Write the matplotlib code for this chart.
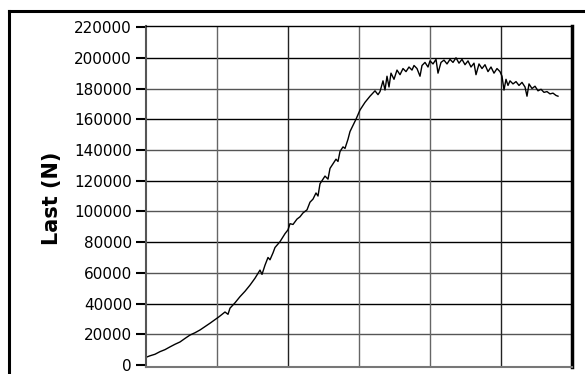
import numpy as np
import matplotlib.pyplot as plt
from matplotlib.lines import Line2D

# Load curve (x in grid units: 71 per division)
x_pos = [0, 4, 9, 14, 19, 24, 29, 34, 39, 44, 49, 54, 59, 64, 69, 73, 79, 82, 84, 89,
         94, 99, 104, 109, 114, 116, 119, 122, 124, 127, 129, 134, 139, 142, 144, 147,
         151, 154, 157, 161, 164, 167, 170, 172, 174, 179, 182, 184, 187, 190, 192, 194,
         197, 199, 202, 204, 207, 210, 214, 219, 224, 229, 232, 234, 237, 239, 241, 243,
         245, 248, 251, 254, 257, 260, 263, 266, 268, 271, 274, 276, 279, 282, 284, 287,
         290, 292, 295, 298, 301, 304, 307, 310, 313, 316, 319, 322, 325, 328, 330, 333,
         336, 339, 342, 345, 348, 351, 354, 356, 358, 360, 362, 364, 367, 370, 373, 376,
         379, 381, 383, 386, 389, 392, 395, 398, 401, 404, 407, 410, 412]
load = [5000, 6000, 7000, 8700, 10000, 11800, 13500, 15000, 17300, 19500, 21000, 22800,
        25000, 27200, 29500, 31400, 34500, 33000, 37000, 40500, 44500, 48000, 52000, 56500,
        61800, 59000, 65000, 70000, 68500, 73000, 76500, 80300, 85500, 88000, 92000, 91500,
        95000, 96500, 99000, 101000, 106000, 108000, 112000, 110000, 118000, 123000, 121000,
        128000, 131000, 134000, 132500, 139000, 142000, 141000, 147000, 152000, 156000,
        160000, 166000, 171000, 175000, 178500, 176000, 178000, 185000, 179000, 188000,
        181000, 190000, 186000, 192000, 189000, 193000, 191000, 194000, 192000, 195000,
        193000, 188000, 195000, 197000, 194000, 198000, 196000, 199000, 190000, 197000,
        198500, 196000, 199000, 197000, 200000, 196500, 199000, 195500, 198000, 194000,
        196500, 189000, 196000, 193000, 195500, 191000, 194000, 190000, 193000, 191000,
        188000, 179000, 186000, 182000, 185000, 183000, 184500, 182000, 184000, 181000,
        175000, 183000, 180000, 181500, 178500, 179500, 177500, 178000, 176500, 177000,
        175500, 175000]

y_ticks = list(range(0, 220001, 20000))
x_grid = [0, 71, 142, 213, 284, 355, 426]

fig = plt.figure(figsize=(5.85, 3.74), dpi=100)
ax = fig.add_axes([146 / 585, 1 - 367 / 374, 426 / 585, 341 / 374])

ax.plot(x_pos, load, color='black', lw=1.0)
ax.set_xlim(0, 426)
ax.set_ylim(-1300, 220700)

ax.set_yticks(y_ticks)
ax.set_yticklabels([str(v) for v in y_ticks], fontsize=11)
ax.set_xticks(x_grid)
ax.tick_params(axis='x', length=0, labelbottom=False)
ax.tick_params(axis='y', length=7, width=1.5, pad=3)

# grid lines alternate between black and grey like the original
for i, v in enumerate(y_ticks[1:-1]):
    ax.axhline(v, color='black' if i % 2 else '#555555', lw=1, zorder=0)
for i, v in enumerate(x_grid[1:-1]):
    ax.axvline(v, color='#222222' if i % 3 == 1 else '#666666', lw=1, zorder=0)

ax.spines['left'].set_color('#555555')
ax.spines['left'].set_linewidth(1.5)
ax.spines['bottom'].set_color('#777777')
ax.spines['bottom'].set_linewidth(1.5)
ax.spines['top'].set_linewidth(1)
ax.spines['right'].set_linewidth(2.5)

fig.text(52 / 585, 1 - 198 / 374, 'Last (N)', rotation=90, fontsize=15,
         fontweight='bold', ha='center', va='center')

# outer frame of the panel
fig.add_artist(Line2D([9 / 585, 1.0], [1 - 11 / 374, 1 - 11 / 374], color='black', lw=2.2))
fig.add_artist(Line2D([9 / 585, 9 / 585], [0, 1 - 11 / 374], color='black', lw=2.2))

plt.savefig('out.png', dpi=100)
